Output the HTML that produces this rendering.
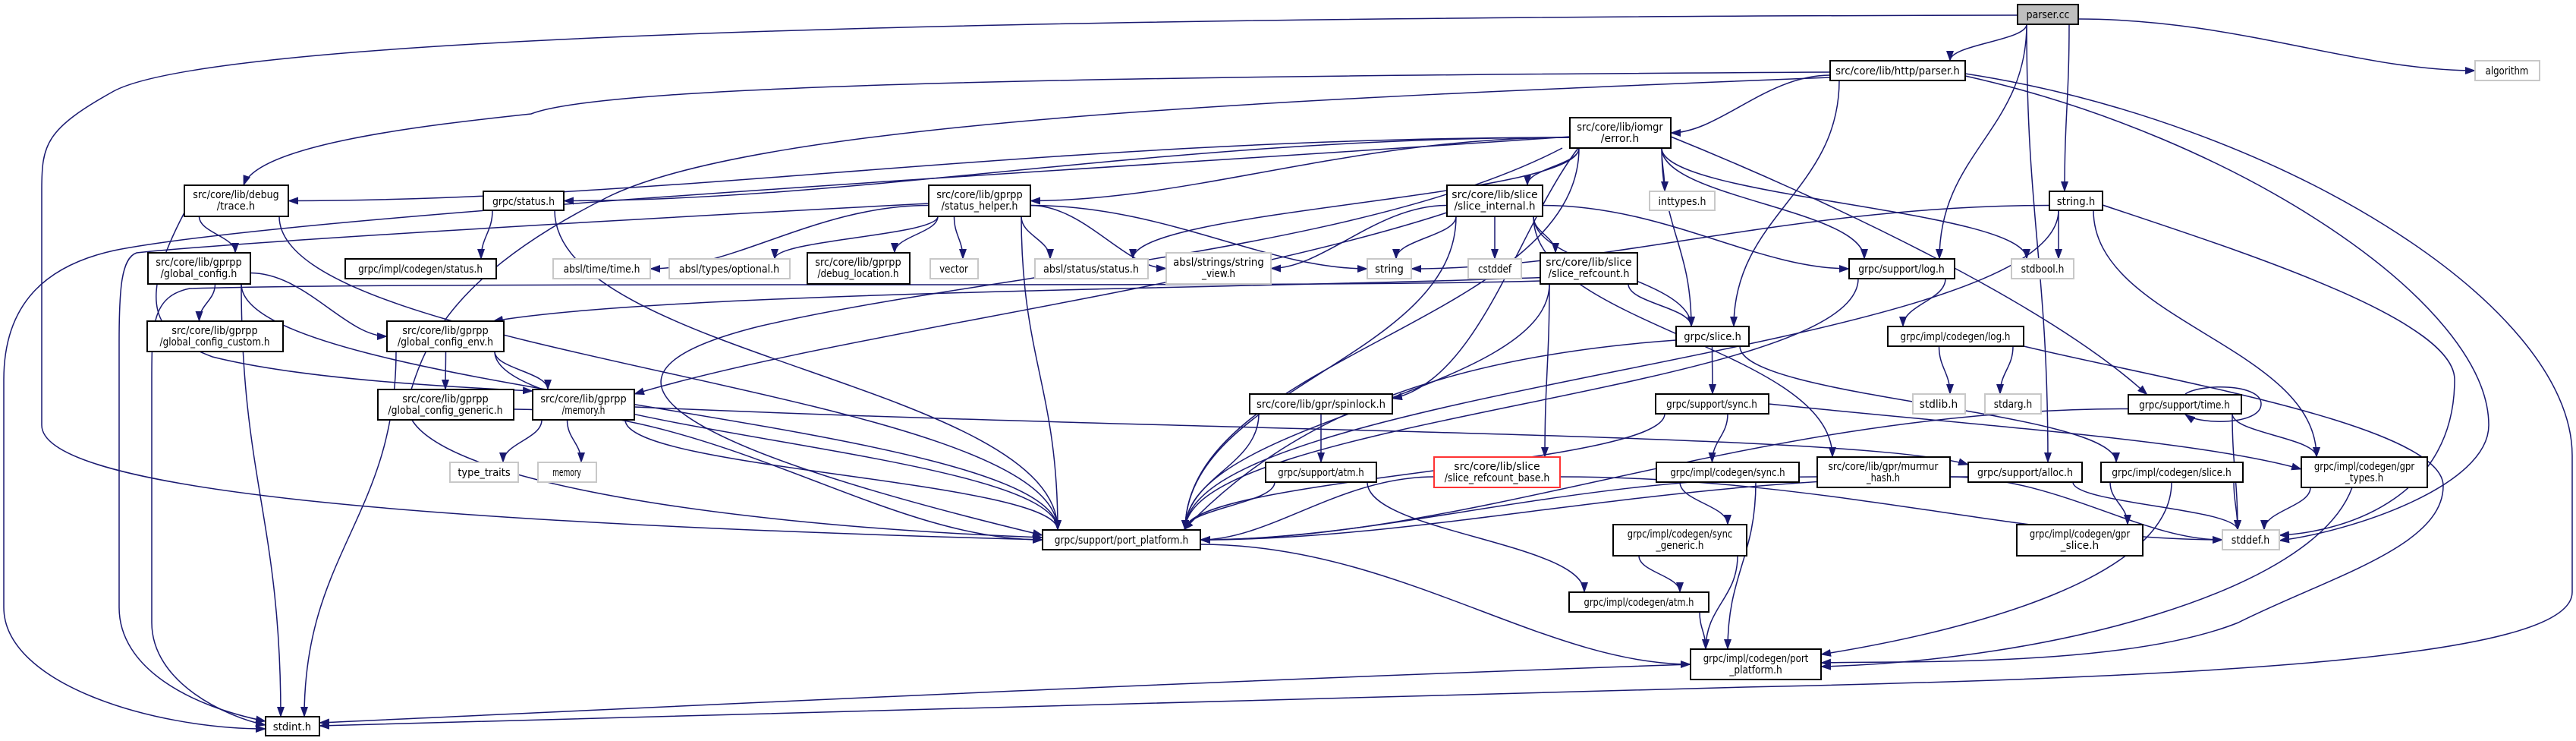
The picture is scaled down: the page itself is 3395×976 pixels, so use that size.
<!DOCTYPE html>
<html><head><meta charset="utf-8">
<style>
html,body{margin:0;padding:0;background:#fff;}
svg{display:block;}
text{font-family:"DejaVu Sans","Liberation Sans",sans-serif;font-size:14px;fill:#000;text-anchor:middle;}
.n rect{fill:#fff;stroke:#000;stroke-width:2;}
.g rect{fill:#fff;stroke:#c8c8c8;stroke-width:2;}
.r rect{fill:#fff;stroke:#ff3333;stroke-width:2;}
.e{fill:none;stroke:#191970;stroke-width:1.5;}
</style></head><body>
<svg id="s" width="3395" height="976" viewBox="0 0 3395 976" xmlns="http://www.w3.org/2000/svg">
<defs><marker id="a" markerUnits="userSpaceOnUse" markerWidth="14" markerHeight="10" refX="13" refY="5" orient="auto"><path d="M0,0 L14,5 L0,10 z" fill="#191970"/></marker></defs>
<g id="edges"></g>
<g id="nodes">
<g class="n"><rect x="2659" y="6" width="80" height="26" style="fill:#bfbfbf"/><text x="2699" y="24">parser.cc</text></g>
<g class="n"><rect x="2412" y="80" width="178" height="26"/><text x="2501" y="98">src/core/lib/http/parser.h</text></g>
<g class="g"><rect x="3262" y="80" width="85" height="26"/><text x="3304" y="98">algorithm</text></g>
<g class="n"><rect x="2069" y="155" width="133" height="40"/><text x="2135" y="172">src/core/lib/iomgr</text><text x="2135" y="187">/error.h</text></g>
<g class="n"><rect x="243" y="244" width="137" height="41"/><text x="311" y="261">src/core/lib/debug</text><text x="311" y="276">/trace.h</text></g>
<g class="n"><rect x="637" y="252" width="106" height="25"/><text x="690" y="270">grpc/status.h</text></g>
<g class="n"><rect x="1224" y="244" width="134" height="41"/><text x="1291" y="261">src/core/lib/gprpp</text><text x="1291" y="276">/status_helper.h</text></g>
<g class="n"><rect x="1907" y="244" width="126" height="41"/><text x="1970" y="261">src/core/lib/slice</text><text x="1970" y="276">/slice_internal.h</text></g>
<g class="g"><rect x="2174" y="252" width="86" height="25"/><text x="2217" y="270">inttypes.h</text></g>
<g class="n"><rect x="2701" y="252" width="70" height="25"/><text x="2736" y="270">string.h</text></g>
<g class="n"><rect x="195" y="333" width="135" height="41"/><text x="262" y="350">src/core/lib/gprpp</text><text x="262" y="365">/global_config.h</text></g>
<g class="n"><rect x="455" y="341" width="199" height="26"/><text x="554" y="359">grpc/impl/codegen/status.h</text></g>
<g class="g"><rect x="729" y="341" width="128" height="26"/><text x="793" y="359">absl/time/time.h</text></g>
<g class="g"><rect x="882" y="341" width="159" height="26"/><text x="961" y="359">absl/types/optional.h</text></g>
<g class="n"><rect x="1064" y="333" width="135" height="41"/><text x="1131" y="350">src/core/lib/gprpp</text><text x="1131" y="365">/debug_location.h</text></g>
<g class="g"><rect x="1226" y="341" width="63" height="26"/><text x="1257" y="359">vector</text></g>
<g class="g"><rect x="1364" y="341" width="149" height="26"/><text x="1438" y="359">absl/status/status.h</text></g>
<g class="g"><rect x="1537" y="333" width="138" height="41"/><text x="1606" y="350">absl/strings/string</text><text x="1606" y="365">_view.h</text></g>
<g class="g"><rect x="1802" y="341" width="58" height="26"/><text x="1831" y="359">string</text></g>
<g class="g"><rect x="1935" y="341" width="70" height="26"/><text x="1970" y="359">cstddef</text></g>
<g class="n"><rect x="2030" y="333" width="128" height="41"/><text x="2094" y="350">src/core/lib/slice</text><text x="2094" y="365">/slice_refcount.h</text></g>
<g class="n"><rect x="2437" y="341" width="139" height="26"/><text x="2506" y="359">grpc/support/log.h</text></g>
<g class="g"><rect x="2651" y="341" width="82" height="26"/><text x="2692" y="359">stdbool.h</text></g>
<g class="n"><rect x="194" y="423" width="179" height="40"/><text x="283" y="440">src/core/lib/gprpp</text><text x="283" y="455">/global_config_custom.h</text></g>
<g class="n"><rect x="510" y="423" width="154" height="40"/><text x="587" y="440">src/core/lib/gprpp</text><text x="587" y="455">/global_config_env.h</text></g>
<g class="n"><rect x="2209" y="430" width="96" height="26"/><text x="2257" y="448">grpc/slice.h</text></g>
<g class="n"><rect x="2488" y="430" width="179" height="26"/><text x="2577" y="448">grpc/impl/codegen/log.h</text></g>
<g class="n"><rect x="498" y="513" width="179" height="40"/><text x="587" y="530">src/core/lib/gprpp</text><text x="587" y="545">/global_config_generic.h</text></g>
<g class="n"><rect x="702" y="513" width="134" height="40"/><text x="769" y="530">src/core/lib/gprpp</text><text x="769" y="545">/memory.h</text></g>
<g class="n"><rect x="1647" y="519" width="188" height="26"/><text x="1741" y="537">src/core/lib/gpr/spinlock.h</text></g>
<g class="n"><rect x="2182" y="519" width="149" height="26"/><text x="2256" y="537">grpc/support/sync.h</text></g>
<g class="g"><rect x="2521" y="519" width="69" height="26"/><text x="2555" y="537">stdlib.h</text></g>
<g class="g"><rect x="2616" y="519" width="74" height="26"/><text x="2653" y="537">stdarg.h</text></g>
<g class="n"><rect x="2805" y="520" width="149" height="25"/><text x="2879" y="538">grpc/support/time.h</text></g>
<g class="g"><rect x="593" y="609" width="90" height="26"/><text x="638" y="627">type_traits</text></g>
<g class="g"><rect x="709" y="609" width="77" height="26"/><text x="747" y="627">memory</text></g>
<g class="n"><rect x="1668" y="609" width="146" height="26"/><text x="1741" y="627">grpc/support/atm.h</text></g>
<g class="r"><rect x="1890" y="602" width="166" height="40"/><text x="1973" y="619">src/core/lib/slice</text><text x="1973" y="634">/slice_refcount_base.h</text></g>
<g class="n"><rect x="2183" y="609" width="188" height="26"/><text x="2277" y="627">grpc/impl/codegen/sync.h</text></g>
<g class="n"><rect x="2395" y="602" width="175" height="40"/><text x="2482" y="619">src/core/lib/gpr/murmur</text><text x="2482" y="634">_hash.h</text></g>
<g class="n"><rect x="2594" y="609" width="150" height="26"/><text x="2669" y="627">grpc/support/alloc.h</text></g>
<g class="n"><rect x="2769" y="609" width="187" height="26"/><text x="2862" y="627">grpc/impl/codegen/slice.h</text></g>
<g class="n"><rect x="3033" y="602" width="166" height="40"/><text x="3116" y="619">grpc/impl/codegen/gpr</text><text x="3116" y="634">_types.h</text></g>
<g class="n"><rect x="1374" y="698" width="208" height="26"/><text x="1478" y="716">grpc/support/port_platform.h</text></g>
<g class="n"><rect x="2126" y="691" width="176" height="41"/><text x="2214" y="708">grpc/impl/codegen/sync</text><text x="2214" y="723">_generic.h</text></g>
<g class="n"><rect x="2658" y="691" width="166" height="41"/><text x="2741" y="708">grpc/impl/codegen/gpr</text><text x="2741" y="723">_slice.h</text></g>
<g class="g"><rect x="2929" y="698" width="75" height="26"/><text x="2966" y="716">stddef.h</text></g>
<g class="n"><rect x="2068" y="780" width="184" height="26"/><text x="2160" y="798">grpc/impl/codegen/atm.h</text></g>
<g class="n"><rect x="2228" y="855" width="172" height="40"/><text x="2314" y="872">grpc/impl/codegen/port</text><text x="2314" y="887">_platform.h</text></g>
<g class="n"><rect x="350" y="944" width="71" height="25"/><text x="385" y="962">stdint.h</text></g>
</g>
</svg>
<script>
var N={PC:[2659,6,2739,32],PH:[2412,80,2590,106],AL:[3262,80,3347,106],ER:[2069,155,2202,195],TR:[243,244,380,285],ST:[637,252,743,277],SH:[1224,244,1358,285],SI:[1907,244,2033,285],IT:[2174,252,2260,277],SR:[2701,252,2771,277],GC:[195,333,330,374],CS:[455,341,654,367],TT:[729,341,857,367],OP:[882,341,1041,367],DL:[1064,333,1199,374],VE:[1226,341,1289,367],AS:[1364,341,1513,367],SV:[1537,333,1675,374],STR:[1802,341,1860,367],CD:[1935,341,2005,367],RC:[2030,333,2158,374],LG:[2437,341,2576,367],SB:[2651,341,2733,367],GCC:[194,423,373,463],GCE:[510,423,664,463],GS:[2209,430,2305,456],CL:[2488,430,2667,456],GCG:[498,513,677,553],MH:[702,513,836,553],SP:[1647,519,1835,545],SY:[2182,519,2331,545],SL:[2521,519,2590,545],SA:[2616,519,2690,545],GT:[2805,520,2954,545],TY:[593,609,683,635],ME:[709,609,786,635],SAT:[1668,609,1814,635],RB:[1890,602,2056,642],CSY:[2183,609,2371,635],MU:[2395,602,2570,642],ALC:[2594,609,2744,635],CSL:[2769,609,2956,635],GTY:[3033,602,3199,642],PP:[1374,698,1582,724],SG:[2126,691,2302,732],GSL:[2658,691,2824,732],SD:[2929,698,3004,724],CA:[2068,780,2252,806],CPP:[2228,855,2400,895],SI2:[350,944,421,969]};
var E="PC PH,PC AL,PC SR,PC LG,PC ALC,PH ER,PH GS,ER TR,ER ST,ER SH,ER SI,ER IT,ER AS,ER LG,ER GS,ER SB,ER PP,SH TT,SH OP,SH DL,SH VE,SH AS,SH SV,SH STR,SH PP,SI STR,SI CD,SI RC,SI GS,SI LG,SI SV,SI PP,SI MU,TR GC,TR PP,ST CS,ST PP,GC GCC,GC GCE,GC PP,GC SI2,GCE GCG,GCE MH,GCE SI2,GCE PP,GCG PP,MH TY,MH ME,MH PP,RC GS,RC RB,RC PP,GS SY,GS CSL,SR STR,SR SB,SR GTY,SR PP,LG CL,LG PP,CL SL,CL SA,SP SAT,SP PP,SY PP,SY CSY,SAT PP,SAT CA,RB PP,RB SD,CSY SG,CSY CPP,SG CA,SG CPP,CA CPP,GT GTY,GT SD,GT PP,MU PP,MU SD,ALC PP,ALC SD,CSL GSL,CSL SD,GTY SD,PP CPP".split(",");
var C=["M2659,20 C1500,22 300,40 150,120 C60,170 55,190 55,250 L55,560 C55,650 600,690 1374,711",
"M2412,95 C1500,100 800,110 700,150 C560,165 340,190 321,244",
"M2590,97 C3000,160 3390,400 3390,600 L3390,780 C3390,860 3000,890 2300,905 C1500,930 800,950 421,956",
"M2590,100 C2950,180 3280,400 3280,560 C3280,640 3100,700 3004,712",
"M2771,270 C2950,330 3235,420 3235,500 C3235,650 3100,700 3004,705",
"M2069,180 C1500,220 400,280 150,330 C60,350 5,400 5,500 L5,800 C5,900 200,960 350,960",
"M1224,268 C800,290 300,320 180,333 C160,340 157,380 157,450 L157,800 C157,880 250,930 350,950",
"M2228,875 C1500,900 800,935 421,952",
"M2880,519 C2900,505 2980,505 2980,532 C2980,560 2900,560 2880,546",
"M2667,456 C2850,500 3220,560 3220,640 C3220,720 3070,760 2950,820 C2800,880 2500,870 2400,873",
"M3100,642 C3050,780 2700,870 2400,878",
"M2862,635 C2862,760 2600,830 2400,862",
"M836,536 C1600,570 2450,570 2594,612",
"M243,280 C180,400 200,440 280,470 C400,500 600,510 702,515",
"M2080,195 C2000,300 1950,500 1835,525",
"M1907,280 C1600,380 1100,440 836,519",
"M2331,532 C2600,560 2900,580 3033,618",
"M2202,180 C2400,260 2700,400 2830,520",
"M2209,448 C1900,470 1700,550 1560,698",
"M2412,102 C1700,130 1000,160 800,260 C600,360 560,450 540,520 C500,620 900,690 1374,708",
"M2158,360 C1800,380 900,380 650,423",
"M2030,370 C1700,380 600,370 250,380 C200,390 200,430 200,500 L200,820 C200,900 300,945 350,955",
"M2059,195 C1800,330 1300,360 1000,430 C800,480 770,560 1374,705"];
var g=document.getElementById('edges'),ns="http://www.w3.org/2000/svg";
function cl(v,a,b){return Math.max(a,Math.min(b,v));}
function add(d){var p=document.createElementNS(ns,'path');p.setAttribute('d',d);p.setAttribute('class','e');p.setAttribute('marker-end','url(#a)');g.appendChild(p);}
E.forEach(function(s){var k=s.split(' '),a=N[k[0]],b=N[k[1]];
var acx=(a[0]+a[2])/2,bcx=(b[0]+b[2])/2;
var dy=b[1]-a[3],dx=bcx-acx,d;
if(dy<40||Math.abs(dx)>6*dy){var sy=(a[1]+a[3])/2+(dy>0?6:0),ty=(b[1]+b[3])/2;
 var sx=dx<0?a[0]:a[2],tx=dx<0?b[2]:b[0];
 d="M"+sx+","+sy+" C"+(sx+(tx-sx)*0.4)+","+sy+" "+(sx+(tx-sx)*0.7)+","+ty+" "+tx+","+ty;}
else{var sx=cl(bcx,a[0]+12,a[2]-12),tx=cl(acx,b[0]+20,b[2]-20),sy=a[3],ty=b[1];
 d="M"+sx+","+sy+" C"+sx+","+(sy+dy*0.45)+" "+tx+","+(ty-dy*0.45)+" "+tx+","+ty;}
add(d);});
C.forEach(add);
document.querySelectorAll('#nodes text').forEach(function(t){var n=t.textContent.length;t.setAttribute('textLength',(n*6.3).toFixed(1));t.setAttribute('lengthAdjust','spacingAndGlyphs');});
</script>
</body></html>
